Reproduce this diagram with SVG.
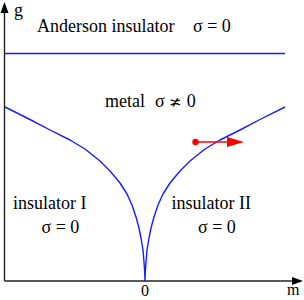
<svg xmlns="http://www.w3.org/2000/svg" width="304" height="300" viewBox="0 0 304 300">
<style>
text{font-family:"Liberation Serif","DejaVu Serif",serif;font-size:18px;fill:#000}
.tick{font-size:16px}
.axis{stroke:#222;stroke-width:1.4;fill:none}
.blue{stroke:#1a1aff;stroke-width:1.4;fill:none;stroke-linejoin:round}
</style>
<rect width="304" height="300" fill="#fff"/>
<g id="axes">
<line class="axis" x1="4.5" y1="281" x2="4.5" y2="10"/>
<polygon points="4.5,2 0.5,13 8.5,13" fill="#000"/>
<line class="axis" x1="4.5" y1="281" x2="294" y2="281"/>
<polygon points="303,281 292,277 292,285" fill="#000"/>
<text x="14" y="16">g</text>
<text class="tick" x="141" y="296">0</text>
<text class="tick" x="287" y="295">m</text>
</g>
<g id="boundaries">
<line class="blue" x1="5" y1="53.5" x2="285" y2="53.5"/>
<path class="blue" d="M5,107 L30,119.5 L50,130 L70,140 L85,149 L100,161 L110,171 L120,183 L127,194 L132,205 L136,217 L139,228 L141,238 L143,250 L144,262 L144.7,272 L145,281 L145.3,272 L146,262 L147,250 L149,238 L151,228 L154,217 L158,205 L163,194 L170,183 L180,171 L190,161 L205,149 L220,140 L240,130 L260,119.5 L285,107"/>
</g>
<g id="flow">
<circle cx="195.5" cy="142" r="3.2" fill="#ff0000"/>
<line x1="195.5" y1="142" x2="230" y2="142" stroke="#ff0000" stroke-width="1.4"/>
<polygon points="244,142 227,137 227,147" fill="#ff0000"/>
</g>
<g id="labels">
<text x="37" y="32">Anderson insulator</text>
<text x="193" y="32">σ = 0</text>
<text x="105" y="107">metal</text>
<text x="155" y="107">σ <tspan font-family="'DejaVu Serif',serif" font-size="15">≭</tspan> 0</text>
<text x="13" y="209">insulator I</text>
<text x="41.5" y="233">σ = 0</text>
<text x="171.5" y="209">insulator II</text>
<text x="198" y="233">σ = 0</text>
</g>
</svg>
